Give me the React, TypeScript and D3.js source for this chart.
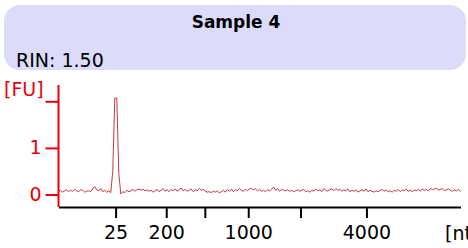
import React, { useRef, useEffect } from 'react';
import * as d3 from 'd3';

// electropherogram data
const title = "Sample 4";
const rinLabel = "RIN: 1.50";

// ladder sizes [nt] and their migration times [s]
const ladderNt = [25, 200, 500, 1000, 2000, 4000];
const ladderLabels = ["25", "200", "", "1000", "", "4000"];
const ladderTimes = [27.1, 33.4, 38.2, 43.6, 50.1, 58.3];

// fluorescence ticks
const fuTicks = [0, 1, 2];
const fuLabels = ["0", "1", ""];

// trace: start time, step, fluorescence values [FU]
const traceStart = 20;
const traceStep = 0.25;
const traceFU = [
  0.06, 0.09, 0.05, 0.08, 0.10, 0.06, 0.09, 0.07, 0.11, 0.08, 0.06, 0.10, 0.09, 0.05, 0.07, 0.08, 0.06, 0.12, 0.17, 0.10,
  0.08, 0.13, 0.06, 0.09, 0.05, 0.08, 0.04, 0.50, 2.07, 2.07, 0.45, 0.01, 0.06, 0.04, 0.09, 0.06, 0.08, 0.11, 0.07, 0.10,
  0.12, 0.09, 0.11, 0.08, 0.10, 0.07, 0.09, 0.05, 0.08, 0.11, 0.06, 0.09, 0.13, 0.07, 0.10, 0.06, 0.11, 0.08, 0.12, 0.07,
  0.10, 0.14, 0.08, 0.11, 0.07, 0.09, 0.12, 0.06, 0.10, 0.08, 0.13, 0.09, 0.11, 0.07, 0.05, 0.06, 0.04, 0.07, 0.05, 0.08,
  0.03, 0.06, 0.09, 0.05, 0.11, 0.07, 0.12, 0.06, 0.10, 0.08, 0.13, 0.09, 0.07, 0.11, 0.08, 0.12, 0.13, 0.10, 0.12, 0.08,
  0.11, 0.07, 0.09, 0.06, 0.10, 0.08, 0.11, 0.16, 0.09, 0.13, 0.07, 0.11, 0.09, 0.08, 0.10, 0.07, 0.09, 0.06, 0.08, 0.10,
  0.07, 0.09, 0.11, 0.06, 0.08, 0.05, 0.09, 0.07, 0.12, 0.08, 0.10, 0.06, 0.13, 0.09, 0.07, 0.11, 0.12, 0.08, 0.13, 0.09,
  0.11, 0.07, 0.10, 0.08, 0.12, 0.06, 0.09, 0.07, 0.10, 0.05, 0.08, 0.10, 0.07, 0.12, 0.06, 0.09, 0.07, 0.05, 0.08, 0.06,
  0.09, 0.11, 0.07, 0.10, 0.06, 0.08, 0.05, 0.09, 0.07, 0.11, 0.06, 0.10, 0.08, 0.12, 0.07, 0.09, 0.06, 0.10, 0.08, 0.11,
  0.07, 0.12, 0.09, 0.11, 0.08, 0.13, 0.10, 0.12, 0.14, 0.09, 0.11, 0.13, 0.08, 0.10, 0.12, 0.09, 0.07, 0.10, 0.08, 0.11,
  0.06,
];

const FONT = "'DejaVu Sans', sans-serif";

const App: React.FC = () => {
  const svgRef = useRef<SVGSVGElement | null>(null);

  useEffect(() => {
    d3.select(svgRef.current).selectAll("*").remove();

    const W = 468, H = 248;
    const svg = d3.select(svgRef.current)
      .attr("width", W)
      .attr("height", H);

    // header box
    svg.append("rect")
      .attr("x", 4).attr("y", 5)
      .attr("width", 462).attr("height", 65)
      .attr("rx", 16).attr("ry", 16)
      .attr("fill", "#dcdcfa");

    svg.append("text")
      .attr("x", 236).attr("y", 28)
      .attr("text-anchor", "middle")
      .style("font-family", FONT)
      .style("font-weight", "bold")
      .style("font-size", "17px")
      .text(title);

    svg.append("text")
      .attr("x", 16).attr("y", 67)
      .style("font-family", FONT)
      .style("font-size", "19px")
      .text(rinLabel);

    // scales
    const xAxisY = 207;
    const x = d3.scaleLinear().domain([20, 70]).range([58.5, 460.5]);
    const y = d3.scaleLinear().domain([0, 2.35]).range([194.5, 85]);

    // trace
    const line = d3.line<number>()
      .x((_, i) => x(traceStart + i * traceStep))
      .y(d => y(d));

    svg.append("path")
      .datum(traceFU)
      .attr("d", line)
      .attr("fill", "none")
      .attr("stroke", "#c43a3a")
      .attr("stroke-width", 1);

    // x axis
    const xAxis = d3.axisBottom(x)
      .tickValues(ladderTimes)
      .tickSize(11)
      .tickSizeOuter(0)
      .tickPadding(8)
      .tickFormat((_, i) => ladderLabels[i]);

    const gx = svg.append("g")
      .attr("transform", `translate(0, ${xAxisY})`)
      .call(xAxis);
    gx.select(".domain").attr("stroke-width", 2);
    gx.selectAll(".tick line").attr("stroke-width", 2);
    gx.selectAll(".tick text")
      .style("font-family", FONT)
      .style("font-size", "19px")
      .attr("fill", "#000");

    svg.append("text")
      .attr("x", 445).attr("y", 240)
      .style("font-family", FONT)
      .style("font-size", "19px")
      .text("[nt]");

    // y axis
    const red = "#e8000b";
    const yAxis = d3.axisLeft(y)
      .tickValues(fuTicks)
      .tickSize(13)
      .tickSizeOuter(0)
      .tickPadding(4)
      .tickFormat((_, i) => fuLabels[i]);

    const gy = svg.append("g")
      .attr("transform", "translate(58.5, 0)")
      .call(yAxis);
    gy.select(".domain").remove();
    gy.selectAll(".tick line").attr("stroke", red).attr("stroke-width", 2);
    gy.selectAll(".tick text")
      .style("font-family", FONT)
      .style("font-size", "19px")
      .attr("fill", red);

    svg.append("line")
      .attr("x1", 58.5).attr("x2", 58.5)
      .attr("y1", y.range()[1]).attr("y2", xAxisY)
      .attr("stroke", red)
      .attr("stroke-width", 2);

    svg.append("text")
      .attr("x", 4).attr("y", 96)
      .style("font-family", FONT)
      .style("font-size", "19px")
      .attr("fill", red)
      .text("[FU]");

    void ladderNt;
  }, []);

  return (
    <div style={{ position: "absolute", left: 0, top: 0 }}>
      <svg ref={svgRef}></svg>
    </div>
  );
};

export default App;
